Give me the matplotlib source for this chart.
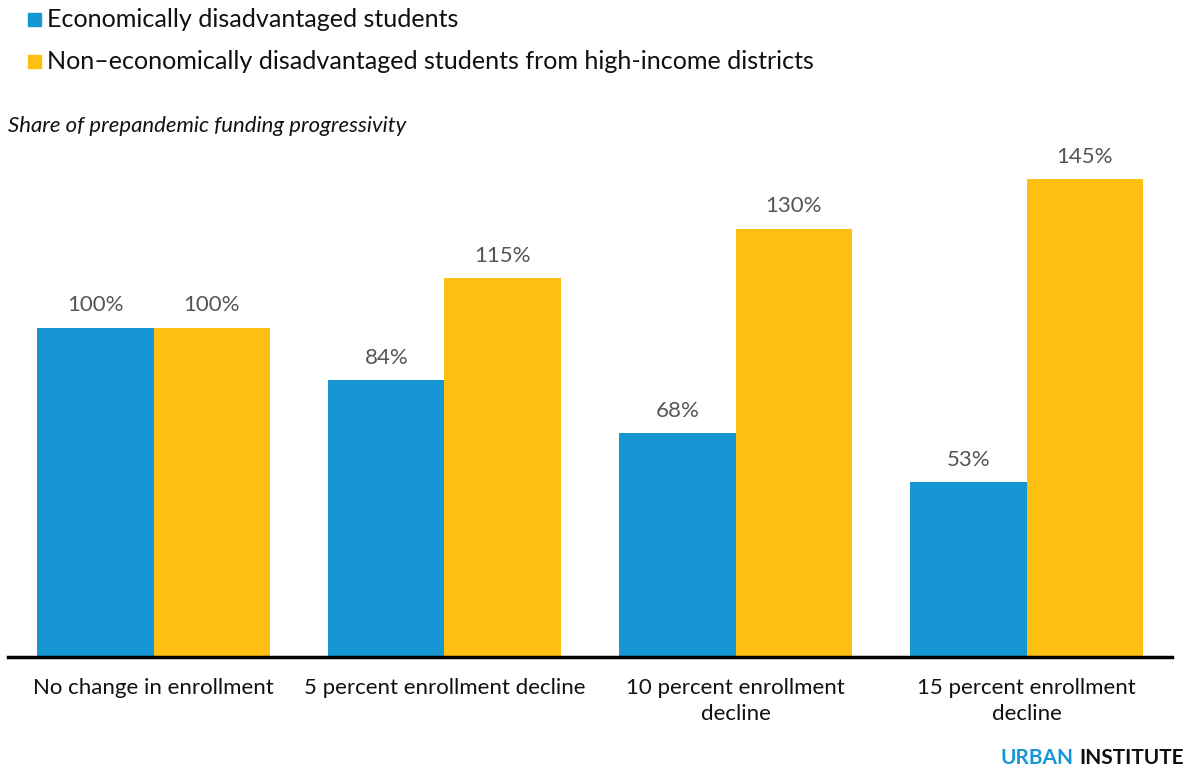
import matplotlib
matplotlib.use("Agg")
import matplotlib.pyplot as plt
from matplotlib.patches import Rectangle
import numpy as np

plt.rcParams['font.family'] = ['Lato', 'DejaVu Sans']

categories = ["No change in enrollment", "5 percent enrollment decline",
              "10 percent enrollment\ndecline", "15 percent enrollment\ndecline"]
disadvantaged = [100, 84, 68, 53]
high_income = [100, 115, 130, 145]
series_names = ["Economically disadvantaged students",
                "Non\u2013economically disadvantaged students from high-income districts"]

BLUE = "#1696d2"
YELLOW = "#fdbf11"

fig = plt.figure(figsize=(11.86, 7.68), dpi=100)
ax = fig.add_axes([8 / 1186, 111 / 768, 1164 / 1186, 494 / 768])

x = np.arange(len(categories))
w = 0.4
b1 = ax.bar(x - w / 2, disadvantaged, w, color=BLUE)
b2 = ax.bar(x + w / 2, high_income, w, color=YELLOW)

for bars, vals in ((b1, disadvantaged), (b2, high_income)):
    for bar, v in zip(bars, vals):
        ax.annotate(f"{v}%", (bar.get_x() + bar.get_width() / 2, v),
                    xytext=(0, 9), textcoords="offset points",
                    ha="center", va="bottom", fontsize=16, color="#555555")

ax.set_xlim(-0.5, 3.5)
ax.set_ylim(0, 150)
ax.set_yticks([])
ax.set_xticks(x)
ax.set_xticklabels(categories, fontsize=16, color="#111111", linespacing=1.4)
ax.tick_params(axis="x", length=0, pad=15)
for s in ("top", "right", "left"):
    ax.spines[s].set_visible(False)
ax.spines["bottom"].set_linewidth(2.5)
ax.spines["bottom"].set_color("black")

# legend drawn as squares plus text
for i, (name, col) in enumerate(zip(series_names, (BLUE, YELLOW))):
    ytop = 13 + i * 42
    fig.add_artist(Rectangle((28 / 1186, 1 - (ytop + 13) / 768), 13 / 1186, 13 / 768,
                             transform=fig.transFigure, color=col))
    fig.text(47 / 1186, 1 - (ytop + 6.5) / 768, name, fontsize=18.1,
             va="center", ha="left", color="#111111")

fig.text(8 / 1186, 1 - 126 / 768, "Share of prepandemic funding progressivity",
         fontsize=15.9, style="italic", va="center", ha="left", color="#111111")

fig.text(1074 / 1186, 1 - 758 / 768, "URBAN", fontsize=15, fontweight="bold",
         color=BLUE, ha="right", va="center")
fig.text(1184 / 1186, 1 - 758 / 768, "INSTITUTE", fontsize=15, fontweight="bold",
         color="#111111", ha="right", va="center")

fig.savefig("out.png", dpi=100)
